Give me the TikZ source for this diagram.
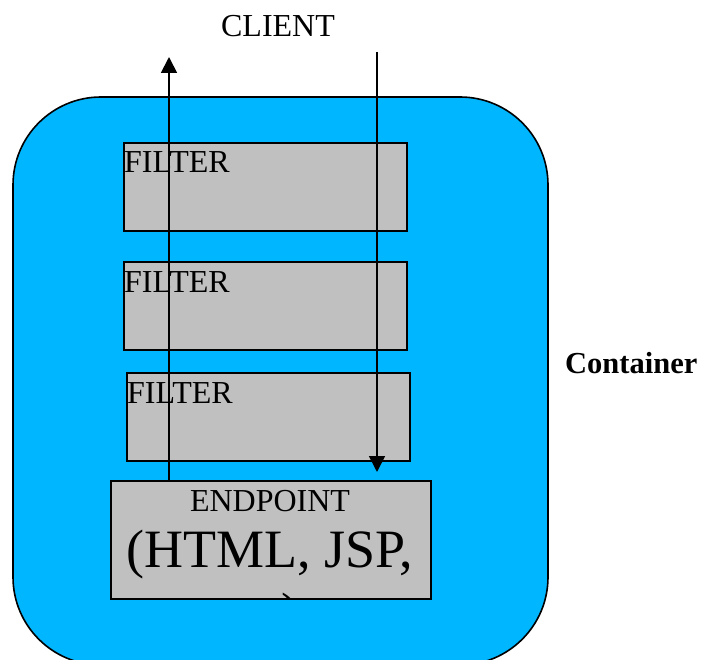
\documentclass[tikz,border=0pt]{standalone}
\usepackage{fontspec}
\setmainfont{Liberation Serif}
\usetikzlibrary{arrows.meta}
\definecolor{contblue}{RGB}{0,182,255}
\definecolor{boxgrey}{RGB}{192,192,192}
\tikzset{
  box/.style={draw=black, line width=1.6pt, fill=boxgrey, inner sep=0pt, anchor=north west},
  lbl/.style={inner sep=0pt, font=\fontsize{32}{38}\selectfont},
  flow/.style={line width=1.8pt, -{Triangle[width=16pt,length=16pt]}},
}
\begin{document}
\begin{tikzpicture}[x=1pt,y=-1pt]
\useasboundingbox (0,0) rectangle (703,660);
% container
\begin{scope}
\clip (0,0) rectangle (703,660);
\draw[line width=1.6pt, fill=contblue, rounded corners=88pt] (13,97) rectangle (548,665);
\end{scope}
% boxes
\node[box, minimum width=283pt, minimum height=88pt] (f1) at (123,142) {};
\node[box, minimum width=283pt, minimum height=88pt] (f2) at (123,261) {};
\node[box, minimum width=283pt, minimum height=88pt] (f3) at (126,372) {};
\node[box, minimum width=320pt, minimum height=118pt] (ep) at (110,480) {};
% labels
\node[lbl, anchor=base west] (t1) at (124,173) {FILTER};
\node[lbl, anchor=base west] (t2) at (124,292) {FILTER};
\node[lbl, anchor=base west] (t3) at (127,403) {FILTER};
\node[lbl, anchor=base] (t4) at (270,511) {ENDPOINT};
\node[inner sep=0pt, anchor=base, font=\fontsize{54}{62}\selectfont] (t5) at (270,567) {(HTML, JSP,};
\begin{scope}
\clip (ep.south west) rectangle (ep.north east);
\node[inner sep=0pt, anchor=base west, font=\fontsize{54}{62}\selectfont] (t6) at (281,630) {)};
\end{scope}
\node[lbl, anchor=base] (client) at (278,37) {CLIENT};
\node[lbl, anchor=base west, font=\fontsize{30.5}{36}\selectfont\bfseries] (cont) at (565,373) {Container};
% arrows
\coordinate (upend) at (169,57);
\coordinate (dnstart) at (377,52);
\coordinate (dnend) at (377,472);
\draw[flow] (ep.north -| upend) -- (upend);
\draw[flow] (dnstart) -- (dnend);
\end{tikzpicture}
\end{document}
